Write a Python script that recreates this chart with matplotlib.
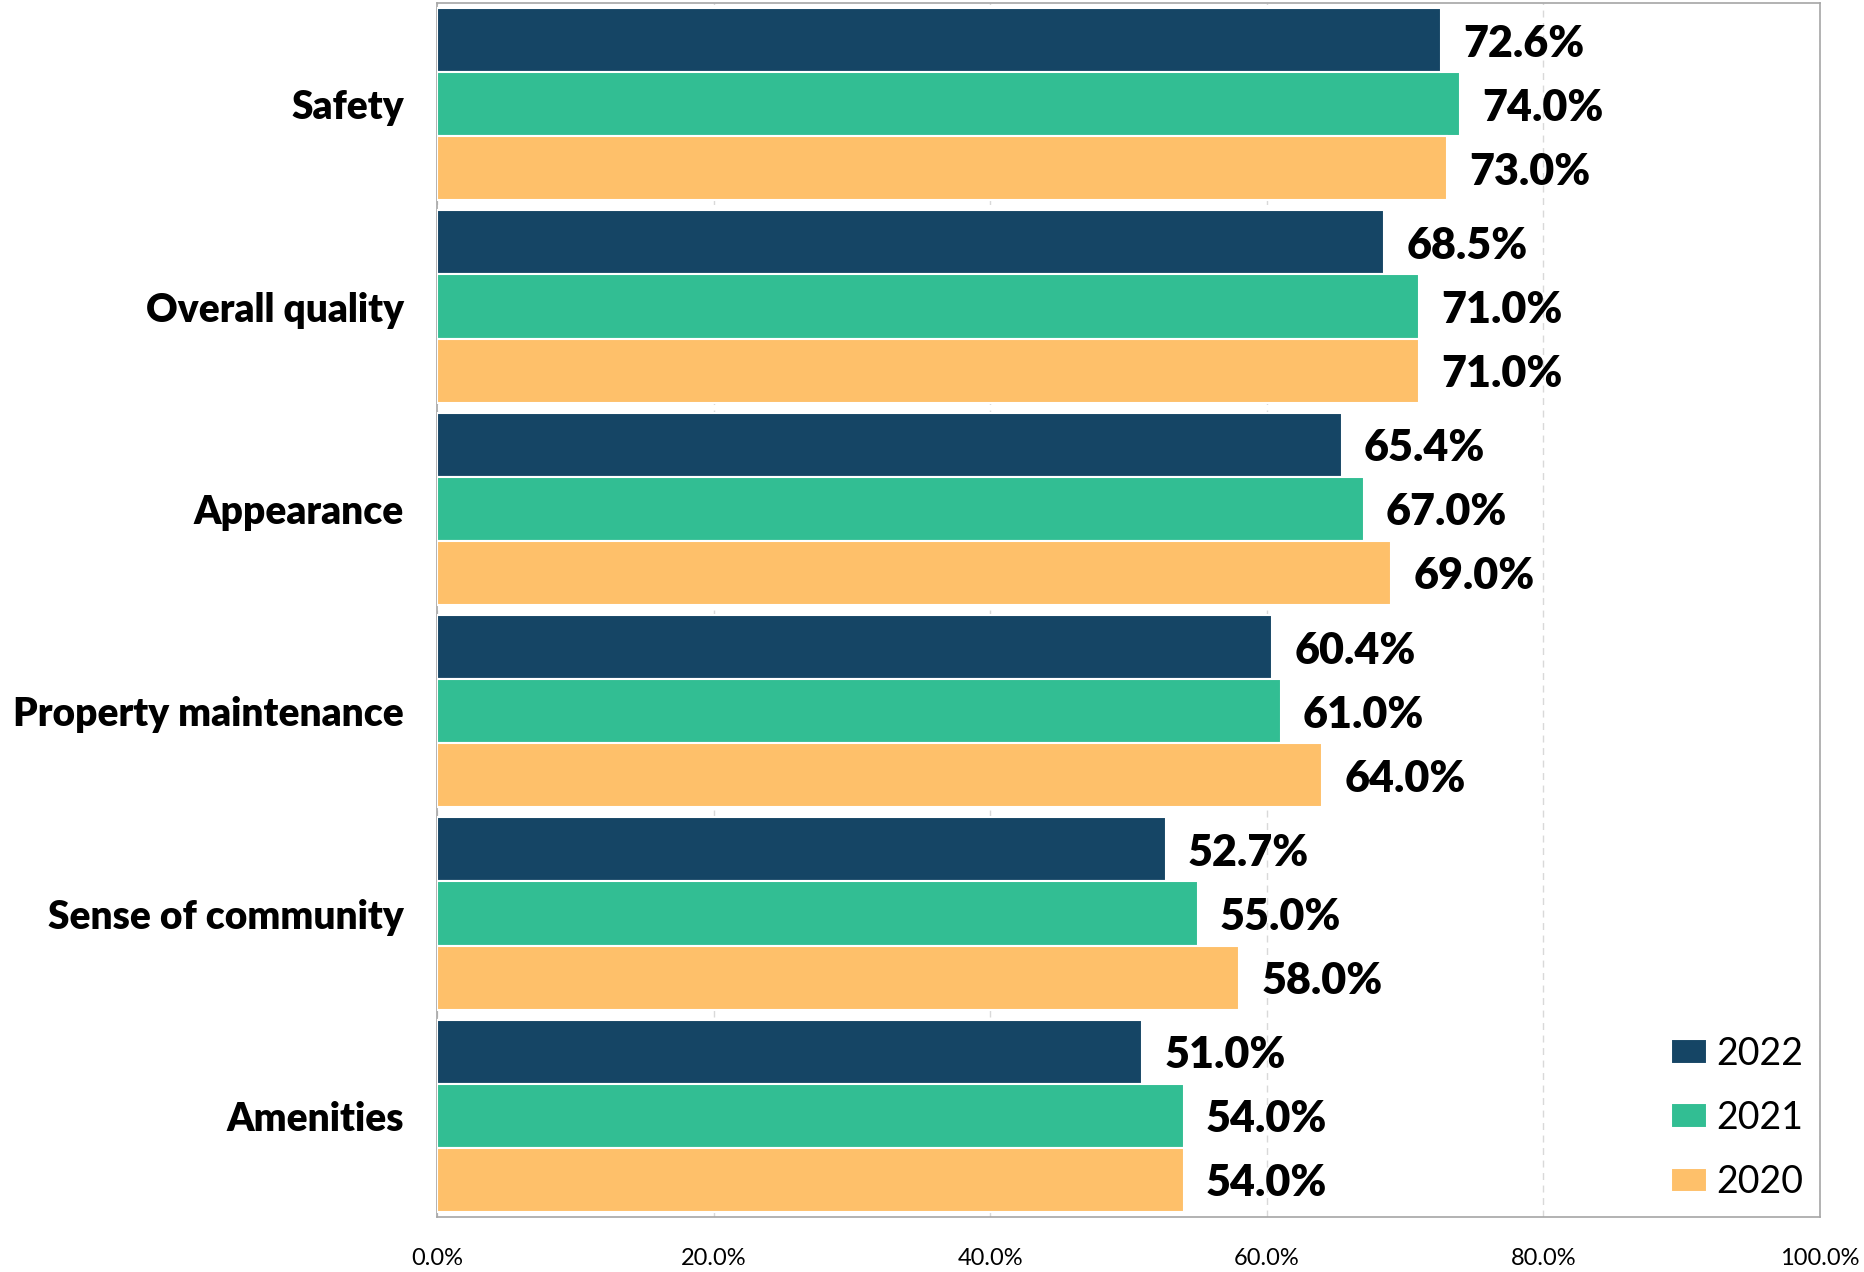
import numpy as np
import matplotlib
matplotlib.use("Agg")
import matplotlib.pyplot as plt
from matplotlib.ticker import FuncFormatter

plt.rcParams['font.family'] = ['Lato', 'DejaVu Sans']

categories = ['Safety', 'Overall quality', 'Appearance', 'Property maintenance',
              'Sense of community', 'Amenities']
years = ['2022', '2021', '2020']
v2022 = [72.6, 68.5, 65.4, 60.4, 52.7, 51.0]
v2021 = [74.0, 71.0, 67.0, 61.0, 55.0, 54.0]
v2020 = [73.0, 71.0, 69.0, 64.0, 58.0, 54.0]
colors = ['#154565', '#32BE93', '#FEC06A']
xticks = [0, 20, 40, 60, 80, 100]

fig = plt.figure(figsize=(18.65, 12.72), dpi=100)
ax = fig.add_axes([0.2343, 0.0432, 0.7416, 0.9544])

y = np.arange(len(categories))
step = 0.317
for k, (vals, col, yr) in enumerate(zip([v2022, v2021, v2020], colors, years)):
    pos = y + (k - 1) * step
    bars = ax.barh(pos, vals, height=step, color=col, edgecolor='white',
                   linewidth=1.5, label=yr, zorder=3)
    for b, v in zip(bars, vals):
        # 標籤放在長條右側，略往下移
        ax.text(v + 1.6, b.get_y() + b.get_height() / 2 + 0.017, f'{v:.1f}%',
                va='center', ha='left', fontsize=31, fontweight='heavy', zorder=4)

ax.set_xlim(0, 100)
ax.set_ylim(5.5, -0.5)
ax.set_xticks(xticks)
ax.xaxis.set_major_formatter(FuncFormatter(lambda v, p: f'{v:.1f}%'))
ax.set_yticks(y)
ax.set_yticklabels(categories, fontsize=28, fontweight='heavy')
ax.tick_params(axis='y', length=0, pad=24)
ax.tick_params(axis='x', length=0, pad=22, labelsize=17)
ax.grid(axis='x', color='#D9D9D9', linestyle=(0, (5, 4)), linewidth=1, zorder=0)
for s in ax.spines.values():
    s.set_color('#A6A6A6')
    s.set_linewidth(1.2)

ax.legend(loc='lower right', bbox_to_anchor=(1.0, 0.0), frameon=False,
          fontsize=27, handlelength=0.95, handleheight=0.64, labelspacing=0.75,
          handletextpad=0.25, borderaxespad=0.05)

fig.savefig('out.png', dpi=100)
